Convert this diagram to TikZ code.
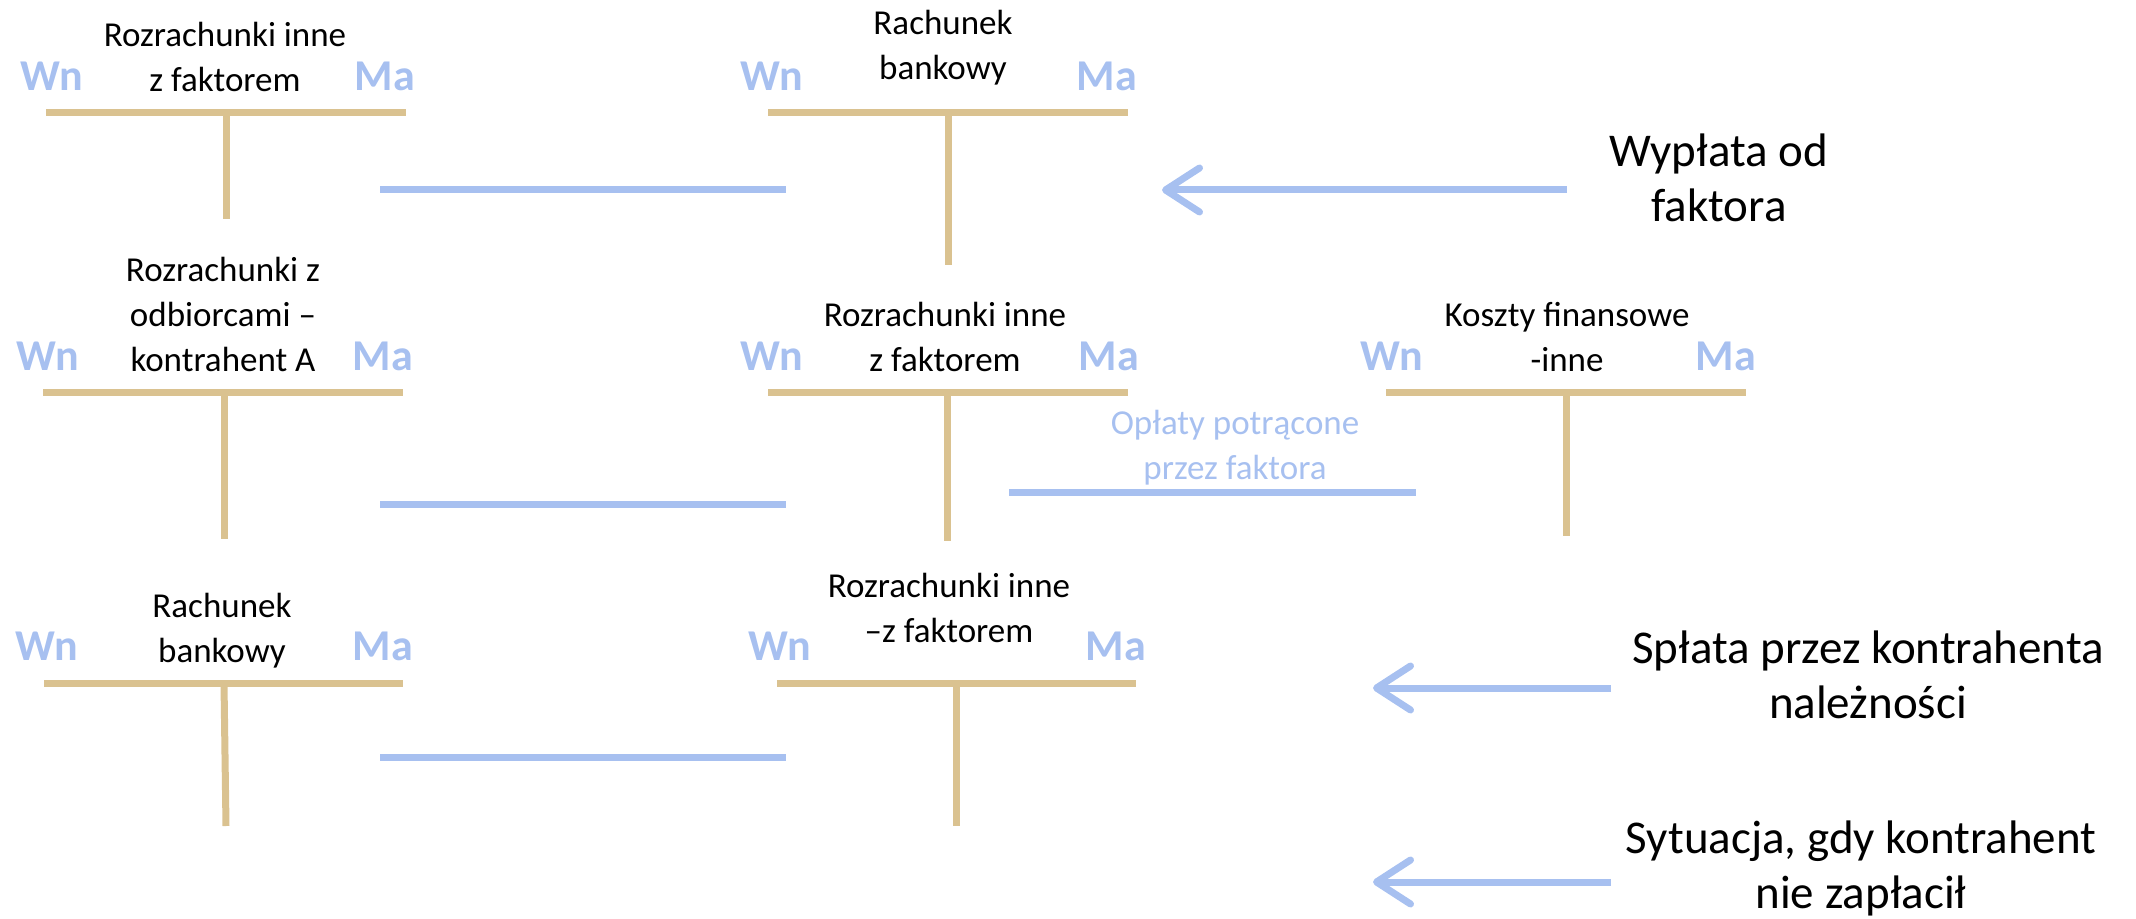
\documentclass[tikz,border=0pt]{standalone}
\usepackage{fontspec}
\setmainfont{Carlito}
\usepackage{xcolor}
\usepackage{tikz}
\usetikzlibrary{arrows.meta}
\definecolor{piasek}{HTML}{DAC290}
\definecolor{blekit}{HTML}{A7C0F0}
\tikzset{
  konto/.style={draw=piasek, line width=3.5pt},
  linia/.style={draw=blekit, line width=3.5pt},
  strzalka/.style={draw=blekit, line width=3.5pt, -{Straight Barb[length=17pt, width=22pt, round]}},
  tytul/.style={font=\fontsize{17.5}{22.5}\selectfont, align=center, anchor=base, inner sep=0pt},
  opis/.style={font=\fontsize{23.5}{27.5}\selectfont, align=center, anchor=base, inner sep=0pt},
  strona/.style={font=\fontsize{22}{26}\selectfont\bfseries, text=blekit, anchor=base, inner sep=0pt}
}

\begin{document}
\begin{tikzpicture}[x = 0.5pt, y = -0.5pt]
\useasboundingbox (0,0) rectangle (2136,919);

\coordinate (a1) at (46,113);
\coordinate (a2) at (406,113);
\coordinate (a3) at (226,113);
\coordinate (a4) at (226,219);
\node[tytul] (ta) at (225,92) {Rozrachunki inne\\z faktorem};
\node[strona] (wa) at (52,91) {Wn};
\node[strona] (ma) at (385,91) {Ma};
\draw[konto] (a1) -- (a2);
\draw[konto] (a3) -- (a4);

\coordinate (b1) at (768,113);
\coordinate (b2) at (1128,113);
\coordinate (b3) at (948,113);
\coordinate (b4) at (948,265);
\node[tytul] (tb) at (943,80) {Rachunek\\bankowy};
\node[strona] (wb) at (772,91) {Wn};
\node[strona] (mb) at (1107,91) {Ma};
\draw[konto] (b1) -- (b2);
\draw[konto] (b3) -- (b4);

\coordinate (c1) at (43,393);
\coordinate (c2) at (403,393);
\coordinate (c3) at (224,393);
\coordinate (c4) at (224,539);
\node[tytul] (tc) at (223,372) {Rozrachunki z\\odbiorcami --\\kontrahent A};
\node[strona] (wc) at (48,371) {Wn};
\node[strona] (mc) at (383,371) {Ma};
\draw[konto] (c1) -- (c2);
\draw[konto] (c3) -- (c4);

\coordinate (d1) at (768,393);
\coordinate (d2) at (1128,393);
\coordinate (d3) at (947,393);
\coordinate (d4) at (947,541);
\node[tytul] (td) at (945,372) {Rozrachunki inne\\z faktorem};
\node[strona] (wd) at (772,371) {Wn};
\node[strona] (md) at (1109,371) {Ma};
\draw[konto] (d1) -- (d2);
\draw[konto] (d3) -- (d4);

\coordinate (e1) at (1386,393);
\coordinate (e2) at (1746,393);
\coordinate (e3) at (1566,393);
\coordinate (e4) at (1566,536);
\node[tytul] (te) at (1567,372) {Koszty finansowe\\-inne};
\node[strona] (we) at (1392,371) {Wn};
\node[strona] (me) at (1726,371) {Ma};
\draw[konto] (e1) -- (e2);
\draw[konto] (e3) -- (e4);

\coordinate (f1) at (44,683);
\coordinate (f2) at (403,683);
\coordinate (f3) at (224,683);
\coordinate (f4) at (226,826);
\node[tytul] (tf) at (222,662) {Rachunek\\bankowy};
\node[strona] (wf) at (47,660) {Wn};
\node[strona] (mf) at (383,660) {Ma};
\draw[konto] (f1) -- (f2);
\draw[konto] (f3) -- (f4);

\coordinate (g1) at (777,683);
\coordinate (g2) at (1136,683);
\coordinate (g3) at (956,683);
\coordinate (g4) at (956,826);
\node[tytul] (tg) at (949,642) {Rozrachunki inne\\--z faktorem};
\node[strona] (wg) at (780,660) {Wn};
\node[strona] (mg) at (1116,660) {Ma};
\draw[konto] (g1) -- (g2);
\draw[konto] (g3) -- (g4);

\coordinate (l1) at (380,190);
\coordinate (p1) at (786,190);
\coordinate (l2) at (380,504);
\coordinate (p2) at (786,504);
\coordinate (l3) at (380,757);
\coordinate (p3) at (786,757);
\coordinate (l4) at (1009,492);
\coordinate (p4) at (1416,492);
\draw[linia] (l1) -- (p1);
\draw[linia] (l2) -- (p2);
\draw[linia] (l3) -- (p3);
\draw[linia] (l4) -- (p4);
\node[tytul, text=blekit] (op) at (1235,480) {Opłaty potrącone\\przez faktora};

\node[opis] (w) at (1719,222) {Wypłata od\\faktora};
\node[opis] (s) at (1868,718) {Spłata przez kontrahenta\\należności};
\node[opis] (n) at (1861,908) {Sytuacja, gdy kontrahent\\nie zapłacił};
\coordinate (s1) at (1567,190);
\coordinate (k1) at (1162,190);
\coordinate (s2) at (1611,688);
\coordinate (k2) at (1373,688);
\coordinate (s3) at (1611,882);
\coordinate (k3) at (1373,882);
\draw[strzalka] (s1) -- (k1);
\draw[strzalka] (s2) -- (k2);
\draw[strzalka] (s3) -- (k3);

\end{tikzpicture}
\end{document}
